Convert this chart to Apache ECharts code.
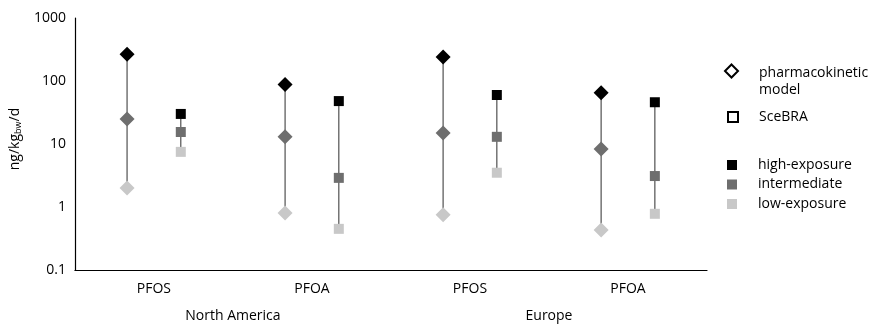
<!DOCTYPE html>
<html style="height: 100%">
<head>
    <meta charset="utf-8">
    <title>PFOS / PFOA intake</title>
    <script type="text/javascript" src="https://cdn.jsdelivr.net/npm/echarts@6/dist/echarts.min.js"></script>
</head>
<body style="height: 100%; margin: 0; background: #fff">
    <div id="container" style="width: 873px; height: 324px"></div>
    <script type="text/javascript">
        // 分类与分组
        var categories = ['PFOS', 'PFOA', 'PFOS', 'PFOA'];
        var regions = ['North America', 'Europe'];
        var yTicks = [0.1, 1, 10, 100, 1000];

        // pharmacokinetic model (菱形)
        var pkHigh = [265, 88, 240, 65];
        var pkMid = [25, 13, 15, 8.3];
        var pkLow = [2.0, 0.8, 0.75, 0.43];

        // SceBRA (方形)
        var sbHigh = [30, 48, 60, 46];
        var sbMid = [15.5, 2.9, 13, 3.1];
        var sbLow = [7.5, 0.45, 3.5, 0.78];

        var colors = { high: '#000000', mid: '#6e6e6e', low: '#c8c8c8' };
        var pkShift = -0.17, sbShift = 0.17;   // 每组内的左右偏移
        var font = 'Open Sans';

        function pos(i, shift) { return i + 0.5 + shift; }
        function pts(arr, shift) {
            return arr.map(function (v, i) { return [pos(i, shift), v]; });
        }
        function whiskers(low, high, shift) {
            return low.map(function (v, i) { return [pos(i, shift), v, high[i]]; });
        }
        function renderWhisker(params, api) {
            var a = api.coord([api.value(0), api.value(1)]);
            var b = api.coord([api.value(0), api.value(2)]);
            return {
                type: 'line',
                shape: { x1: a[0], y1: a[1], x2: b[0], y2: b[1] },
                style: { stroke: '#505050', lineWidth: 1.2 }
            };
        }

        var dom = document.getElementById('container');
        var myChart = echarts.init(dom);

        var legendText = { fontFamily: font, fontSize: 14, color: '#000' };

        var option = {
            animation: false,
            textStyle: { fontFamily: font, color: '#000' },
            grid: { left: 64, right: 166, top: 18, bottom: 54 },
            legend: [{
                // 形状：两行文字，图标对齐第一行（前面加一空行使其居中）
                orient: 'vertical',
                left: 719,
                top: 44.5,
                itemWidth: 13,
                itemHeight: 13,
                selectedMode: false,
                formatter: function (name) {
                    return '{a| }\n' + name.split(' ').map(function (s) { return '{a|' + s + '}'; }).join('\n');
                },
                textStyle: Object.assign({}, legendText, {
                    padding: [5, 0, 0, 16],
                    rich: { a: { fontFamily: font, fontSize: 14, color: '#000', lineHeight: 17 } }
                }),
                data: [{ name: 'pharmacokinetic model', icon: 'diamond' }]
            }, {
                orient: 'vertical',
                left: 722,
                top: 105,
                itemWidth: 10,
                itemHeight: 10,
                selectedMode: false,
                textStyle: Object.assign({}, legendText, { padding: [0, 0, 0, 16] }),
                data: [{ name: 'SceBRA', icon: 'rect' }]
            }, {
                // 颜色
                orient: 'vertical',
                left: 722,
                top: 153,
                itemWidth: 10,
                itemHeight: 10,
                itemGap: 5.5,
                selectedMode: false,
                textStyle: Object.assign({}, legendText, { padding: [0, 0, 0, 16] }),
                data: [
                    { name: 'high-exposure', icon: 'rect' },
                    { name: 'intermediate', icon: 'rect' },
                    { name: 'low-exposure', icon: 'rect' }
                ]
            }],
            xAxis: [{
                type: 'category',
                data: categories,
                position: 'bottom',
                axisLine: { lineStyle: { color: '#000', width: 1.2 } },
                axisTick: { show: false },
                axisLabel: { fontFamily: font, fontSize: 14, color: '#000', margin: 12 }
            }, {
                type: 'category',
                data: regions,
                position: 'bottom',
                offset: 27,
                axisLine: { show: false },
                axisTick: { show: false },
                axisLabel: { fontFamily: font, fontSize: 14, color: '#000', margin: 12 }
            }, {
                type: 'value',
                min: 0,
                max: categories.length,
                show: false
            }],
            yAxis: {
                type: 'log',
                logBase: 10,
                min: yTicks[0],
                max: yTicks[yTicks.length - 1],
                axisLine: { show: true, lineStyle: { color: '#000', width: 1.2 } },
                axisTick: { show: false },
                splitLine: { show: false },
                axisLabel: {
                    fontFamily: font, fontSize: 14, color: '#000', margin: 9,
                    formatter: function (v) { return String(v); }
                },
                name: '{a|ng/kg}{s|bw}{a|/d}',
                nameLocation: 'middle',
                nameGap: 45,
                nameRotate: 90,
                nameTextStyle: {
                    padding: [0, 0, 0, 10],
                    rich: {
                        a: { fontFamily: font, fontSize: 14, color: '#000' },
                        s: { fontFamily: font, fontSize: 9, color: '#000', padding: [7, 0, 0, 0] }
                    }
                }
            },
            series: [
                // 连线
                { type: 'custom', xAxisIndex: 2, renderItem: renderWhisker, encode: { x: 0, y: [1, 2] }, data: whiskers(pkLow, pkHigh, pkShift), z: 1 },
                { type: 'custom', xAxisIndex: 2, renderItem: renderWhisker, encode: { x: 0, y: [1, 2] }, data: whiskers(sbLow, sbHigh, sbShift), z: 1 },
                // 菱形
                { name: 'high-exposure', type: 'scatter', xAxisIndex: 2, symbol: 'diamond', symbolSize: 15, itemStyle: { color: colors.high, opacity: 1 }, data: pts(pkHigh, pkShift), z: 3 },
                { name: 'intermediate', type: 'scatter', xAxisIndex: 2, symbol: 'diamond', symbolSize: 15, itemStyle: { color: colors.mid, opacity: 1 }, data: pts(pkMid, pkShift), z: 3 },
                { name: 'low-exposure', type: 'scatter', xAxisIndex: 2, symbol: 'diamond', symbolSize: 15, itemStyle: { color: colors.low, opacity: 1 }, data: pts(pkLow, pkShift), z: 3 },
                // 方形
                { name: 'high-exposure', type: 'scatter', xAxisIndex: 2, symbol: 'rect', symbolSize: 10, itemStyle: { color: colors.high, opacity: 1 }, data: pts(sbHigh, sbShift), z: 3 },
                { name: 'intermediate', type: 'scatter', xAxisIndex: 2, symbol: 'rect', symbolSize: 10, itemStyle: { color: colors.mid, opacity: 1 }, data: pts(sbMid, sbShift), z: 3 },
                { name: 'low-exposure', type: 'scatter', xAxisIndex: 2, symbol: 'rect', symbolSize: 10, itemStyle: { color: colors.low, opacity: 1 }, data: pts(sbLow, sbShift), z: 3 },
                // 图例用
                { name: 'pharmacokinetic model', type: 'scatter', xAxisIndex: 2, symbol: 'diamond', itemStyle: { color: '#fff', borderColor: '#000', borderWidth: 1.5, opacity: 1 }, data: [] },
                { name: 'SceBRA', type: 'scatter', xAxisIndex: 2, symbol: 'rect', itemStyle: { color: '#fff', borderColor: '#000', borderWidth: 1.2, opacity: 1 }, data: [] }
            ]
        };
        myChart.setOption(option);
    </script>
</body>
</html>
